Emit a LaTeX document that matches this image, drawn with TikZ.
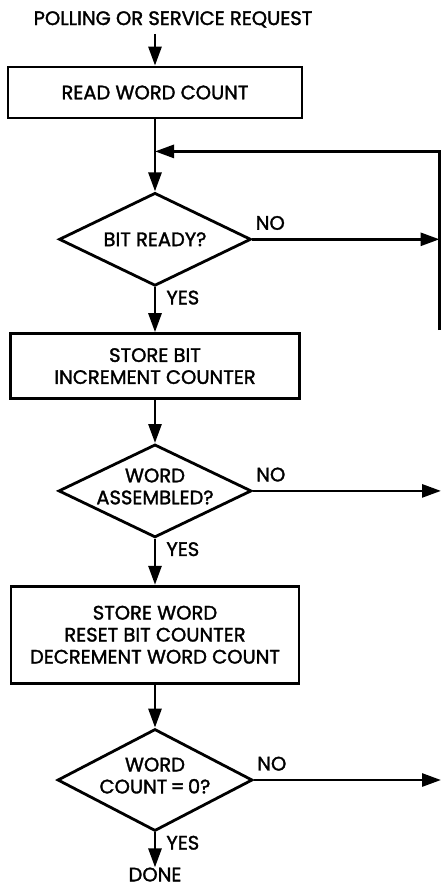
\documentclass[tikz,border=0pt]{standalone}
\usepackage{fontspec}
\setmainfont{Poppins}[FakeBold=1.6]
\usetikzlibrary{arrows.meta, shapes.geometric, positioning}

\begin{document}
\begin{tikzpicture}[
  x=1pt, y=-1pt,
  font=\fontsize{19.5}{22}\selectfont,
  process/.style={rectangle, draw, line width=2.8pt, align=center, inner sep=0pt},
  decision/.style={diamond, draw, line width=2.8pt, align=center, inner sep=-8pt, aspect=2},
  raised/.style={text depth=9pt},
  arrow/.style={-{Triangle[length=19pt, width=13pt]}, line width=2.8pt},
  tag/.style={inner sep=0pt},
  plain/.style={inner sep=0pt}
]
\useasboundingbox (0,0) rectangle (441,887);

\node[process, minimum width=294pt, minimum height=51pt] (readwc) at (155,92.5) {READ WORD COUNT};
\node[plain, anchor=base] (start) at (173,25) {POLLING OR SERVICE REQUEST};
\node[decision, minimum width=192pt, minimum height=93pt, below=72pt of readwc] (bitrdy) {BIT READY?};
\node[process, minimum width=289pt, minimum height=65pt, below=45pt of bitrdy] (storebit) {STORE BIT\\INCREMENT COUNTER};
\node[decision, raised, minimum width=193pt, minimum height=93pt, below=43pt of storebit] (wordasm) {WORD\\ASSEMBLED?};
\node[process, minimum width=288pt, minimum height=97pt, below=46pt of wordasm] (storeword) {STORE WORD\\RESET BIT COUNTER\\DECREMENT WORD COUNT};
\node[decision, raised, minimum width=195pt, minimum height=102pt, below=43pt of storeword] (wcz) {WORD\\COUNT\,=\,0?};
\node[plain, below=35pt of wcz] (done) {DONE};

% loop back and exits at the right edge
\coordinate[above=40pt of bitrdy.north] (merge);
\coordinate (loopR) at (439.5,152);
\coordinate (loopEnd) at (439.5,330);
\coordinate (edge) at (441,0);

\draw[arrow] ([yshift=-6pt]start.south -| readwc.north) -- (readwc);
\draw[arrow] (readwc) -- (bitrdy);
\draw[arrow] (loopEnd) |- (merge);
\draw[arrow] (bitrdy.east) -- node[tag, pos=0, anchor=south west, xshift=2pt, yshift=8pt] {NO} (bitrdy.east -| loopR);
\draw[arrow] (bitrdy) -- node[tag, pos=0, anchor=north west, xshift=10pt, yshift=-2pt] {YES} (storebit);
\draw[arrow] (storebit) -- (wordasm);
\draw[arrow] (wordasm.east) -- node[tag, pos=0, anchor=south west, xshift=2pt, yshift=8pt] {NO} (wordasm.east -| edge);
\draw[arrow] (wordasm) -- node[tag, pos=0, anchor=north west, xshift=10pt, yshift=-2pt] {YES} (storeword);
\draw[arrow] (storeword) -- (wcz);
\draw[arrow] (wcz.east) -- node[tag, pos=0, anchor=south west, xshift=2pt, yshift=8pt] {NO} (wcz.east -| edge);
\draw[arrow] (wcz) -- node[tag, pos=0, anchor=north west, xshift=10pt, yshift=-2pt] {YES} (done);

\end{tikzpicture}
\end{document}
